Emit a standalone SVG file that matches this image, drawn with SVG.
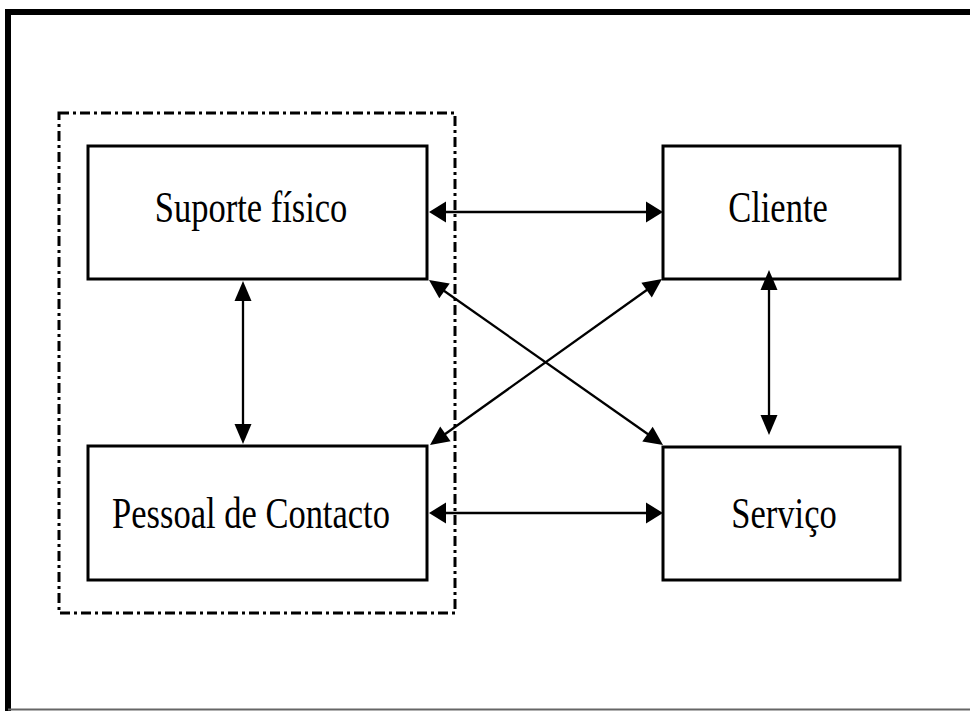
<svg xmlns="http://www.w3.org/2000/svg" width="970" height="711" viewBox="0 0 970 711">
<style>
.box{fill:#fff;stroke:#000;stroke-width:3}
.lbl{font-family:"Liberation Serif","Times New Roman",serif;font-size:34.5px;fill:#000;text-anchor:middle}
.con line{stroke:#000;stroke-width:2.3}
.con polygon{fill:#000;stroke:none}
.frame{stroke:#000;stroke-width:6;fill:none}
.group{fill:none;stroke:#000;stroke-width:3;stroke-dasharray:10 4 3 4}
</style>
<rect width="970" height="711" fill="#fff"/>
<g id="frame">
<line class="frame" x1="8" y1="9" x2="8" y2="711"/>
<line class="frame" x1="5" y1="12" x2="970" y2="12"/>
<line x1="8" y1="709.5" x2="970" y2="709.5" stroke="#666" stroke-width="2"/>
</g>
<rect id="grupo" class="group" x="59" y="113" width="396" height="500"/>
<g id="suporte">
<rect class="box" x="88" y="146" width="339" height="133"/>
<text class="lbl" transform="translate(251,222) scale(1,1.3)">Suporte físico</text>
</g>
<g id="cliente">
<rect class="box" x="663" y="146" width="237" height="133"/>
<text class="lbl" transform="translate(778,222) scale(1,1.3)">Cliente</text>
</g>
<g id="pessoal">
<rect class="box" x="88" y="446" width="339" height="134"/>
<text class="lbl" transform="translate(251,528) scale(1,1.3)">Pessoal de Contacto</text>
</g>
<g id="servico">
<rect class="box" x="663" y="447" width="237" height="133"/>
<text class="lbl" transform="translate(784,528) scale(1,1.3)">Serviço</text>
</g>
<g id="connectors" class="con">
<line x1="440" y1="212" x2="652" y2="212"/>
<polygon points="429,212 446,201.5 446,222.5"/>
<polygon points="663,212 646,201.5 646,222.5"/>
<line x1="440" y1="513" x2="652" y2="513"/>
<polygon points="429,513 446,502.5 446,523.5"/>
<polygon points="663,513 646,502.5 646,523.5"/>
<line x1="243" y1="295" x2="243" y2="430"/>
<polygon points="243,281 234.5,301 251.5,301"/>
<polygon points="243,444 234.5,424 251.5,424"/>
<line x1="769" y1="284" x2="769" y2="421"/>
<polygon points="769,270 760.5,290 777.5,290"/>
<polygon points="769,435 760.5,415 777.5,415"/>
<line x1="440" y1="288" x2="652" y2="437"/>
<polygon points="429,280 439.3,298.3 449.7,283.5"/>
<polygon points="663,445 642.3,441.5 652.7,426.7"/>
<line x1="441" y1="437" x2="651" y2="287"/>
<polygon points="430,445 450.6,441.2 440.2,426.6"/>
<polygon points="662,279 651.8,297.4 641.4,282.8"/>
</g>
</svg>
